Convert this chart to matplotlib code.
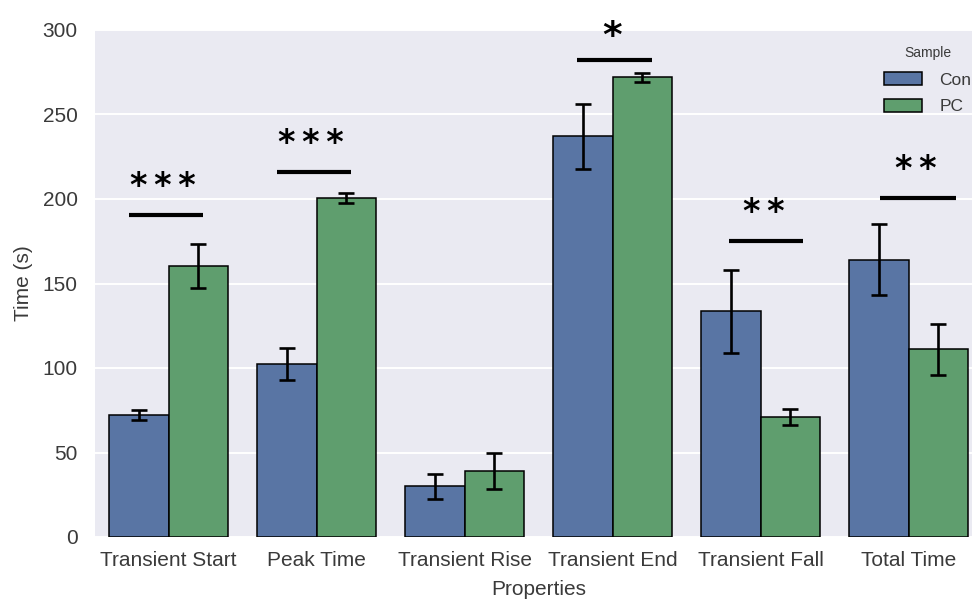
import matplotlib
matplotlib.use("Agg")
import matplotlib.pyplot as plt
import numpy as np

# Data
categories = ["Transient Start", "Peak Time", "Transient Rise",
              "Transient End", "Transient Fall", "Total Time"]
con_mean = [72, 102.5, 30, 237, 133.5, 164]
con_err = [3, 9.5, 7.5, 19.5, 24.5, 21]
pc_mean = [160.5, 200.5, 39, 272, 71, 111]
pc_err = [13, 3, 10.5, 2.5, 5, 15]
series_names = ["Con", "PC"]

# Significance annotations: (category index, bar level, stars)
sig_levels = [190.5, 216, 282, 175, 200.5]
sig_index = [0, 1, 3, 4, 5]
sig_stars = ["***", "***", "*", "**", "**"]
sig_span = [(-0.27, 0.23), (-0.27, 0.23), (-0.24, 0.27), (-0.21, 0.29), (-0.19, 0.32)]

blue = "#5975A4"
green = "#5F9E6E"
text_col = "#3a3a3a"

plt.rcParams["font.family"] = ["Liberation Sans", "DejaVu Sans"]

fig = plt.figure(figsize=(9.72, 5.99), dpi=100)
ax = fig.add_axes([94.5 / 972, 1 - 537 / 599, 888 / 972, 507 / 599])
ax.set_facecolor("#EAEAF2")
for s in ax.spines.values():
    s.set_visible(False)

x = np.arange(len(categories))
w = 0.4
err_kw = dict(ecolor="black", elinewidth=1.9, capsize=5.8, capthick=1.9)
ax.bar(x - w / 2, con_mean, w, yerr=con_err, color=blue, edgecolor="black",
       linewidth=1.1, label=series_names[0], error_kw=err_kw, zorder=3)
ax.bar(x + w / 2, pc_mean, w, yerr=pc_err, color=green, edgecolor="black",
       linewidth=1.1, label=series_names[1], error_kw=err_kw, zorder=3)

ax.set_xlim(-0.5, len(categories) - 0.5)
ax.set_ylim(0, 300)
ax.set_yticks(np.arange(0, 301, 50))
ax.set_xticks(x)
ax.set_xticklabels(categories)
ax.yaxis.grid(True, color="white", linewidth=1.4, zorder=0)
ax.xaxis.grid(False)
ax.set_axisbelow(True)
ax.tick_params(axis="both", length=0, labelsize=15, labelcolor=text_col)
ax.tick_params(axis="y", pad=12)
ax.tick_params(axis="x", pad=10)
ax.set_xlabel("Properties", fontsize=15, color=text_col, labelpad=7)
ax.set_ylabel("Time (s)", fontsize=15, color=text_col, labelpad=7)

# Significance bars and stars (thin spaces keep the stars close together)
for i, lvl, st, (a, b) in zip(sig_index, sig_levels, sig_stars, sig_span):
    ax.plot([i + a, i + b], [lvl, lvl], color="black", linewidth=3.0,
            solid_capstyle="butt", zorder=4, clip_on=False)
    if st == "*":
        fs, off = 27, 3
    else:
        fs, off = 24, 7
    ax.text(i + (a + b) / 2 - 0.015, lvl + off, "\u2009".join(st),
            ha="center", va="bottom", fontsize=fs, fontweight="bold",
            family="DejaVu Sans", color="black", zorder=5, clip_on=False)

leg = ax.legend(title="Sample", loc="upper right", bbox_to_anchor=(1.005, 1.0),
                frameon=False, fontsize=12.5, title_fontsize=10,
                handlelength=2.2, handleheight=0.75, handletextpad=1.0,
                labelspacing=0.65)
leg._legend_box.sep = 9
for t in leg.get_texts():
    t.set_color(text_col)
leg.get_title().set_color(text_col)

fig.savefig("out.png", dpi=100)
